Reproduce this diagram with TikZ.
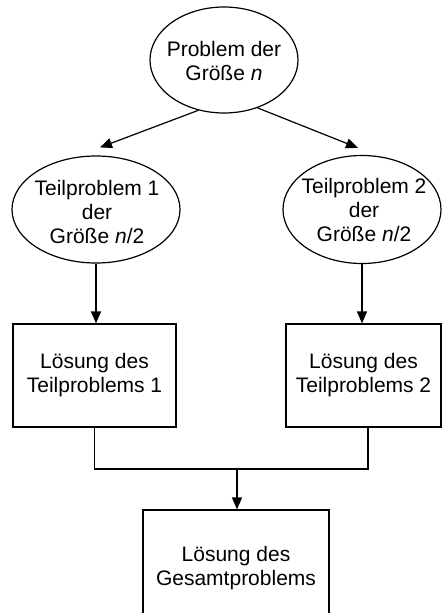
\documentclass[tikz,border=0pt]{standalone}
\usepackage{fontspec}
\setmainfont{Liberation Sans}
\usetikzlibrary{arrows.meta,shapes.geometric,calc}
\begin{document}
\begin{tikzpicture}[x=1pt,y=-1pt,
  oval/.style={draw, ellipse, line width=1.2pt, inner sep=0pt},
  txt/.style={align=center, font=\fontsize{21}{24}\selectfont, inner sep=0pt},
  box/.style={draw, rectangle, line width=1.2pt, inner sep=0pt},
  arr/.style={line width=1.2pt, -{Triangle[length=12pt,width=10pt]}},
  conn/.style={line width=1.2pt}]
\fill[white] (0,0) rectangle (442,613);
\useasboundingbox (0,0) rectangle (442,613);
\clip (0,0) rectangle (442,613);

% ellipses
\node[oval, minimum width=148pt, minimum height=106pt] (top) at (224,60) {};
\node[txt] (toptxt) at (224,61) {Problem der\\Größe \textit{n}};

\node[oval, minimum width=168pt, minimum height=107pt] (l) at (96,209.5) {};
\node[txt] (ltxt) at (97,212) {Teilproblem 1\\der\\Größe \textit{n}/2};

\node[oval, minimum width=158pt, minimum height=108pt] (r) at (362,209.5) {};
\node[txt] (rtxt) at (364,210) {Teilproblem 2\\der\\Größe \textit{n}/2};

% boxes
\node[box, minimum width=163pt, minimum height=103pt] (lb) at (94.5,375.5) {};
\node[txt] (lbtxt) at (94.5,375) {Lösung des\\Teilproblems 1};

\node[box, minimum width=155pt, minimum height=103pt] (rb) at (363.5,375.5) {};
\node[txt] (rbtxt) at (363.5,375) {Lösung des\\Teilproblems 2};

\node[box, minimum width=186pt, minimum height=106pt] (bb) at (236,563) {};
\node[txt] (bbtxt) at (236,568) {Lösung des\\Gesamtproblems};

% connectors
\draw[arr] (top.243) -- ($(l.north)+(4,-8)$);
\draw[arr] (top.305) -- ($(r.north)+(-4,-7)$);
\draw[arr] (l.south) -- (l.south |- lb.north);
\draw[arr] (r.south) -- (r.south |- rb.north);
\coordinate (j) at (237,469);
\draw[conn] (lb.south) |- (j) -| ($(rb.south)+(4.5,0)$);
\draw[arr] (j) -- (j |- bb.north);
\end{tikzpicture}
\end{document}
